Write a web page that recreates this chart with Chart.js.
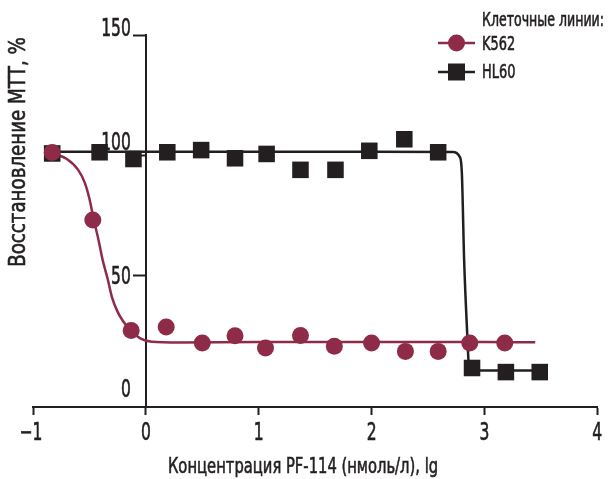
<!DOCTYPE html>
<html><head><meta charset="utf-8">
<script src="https://cdn.jsdelivr.net/npm/chart.js@4"></script>
<style>html,body{margin:0;padding:0;background:#fff}</style>
</head><body>
<canvas id="c" width="609" height="479" style="display:block;width:609px;height:479px"></canvas>
<script>
const FONT = "'DejaVu Sans Condensed','DejaVu Sans',sans-serif";
const INK = '#231F20';
const MAROON = '#8E2B49';

const seriesNames = ['K562', 'HL60'];
const legendTitle = 'Клеточные линии:';
const xTitle = 'Концентрация PF-114 (нмоль/л), lg';
const yTitle = 'Восстановление МТТ, %';
const xTicks = [-1, 0, 1, 2, 3, 4];
const yTicks = [0, 50, 100, 150];

// measured points
const k562X = [-0.83, -0.47, -0.13, 0.18, 0.50, 0.79, 1.06, 1.37, 1.67, 2.00, 2.30, 2.59, 2.87, 3.18];
const k562Y = [101.2, 73.2, 27.3, 28.7, 22.1, 25.1, 20.0, 25.2, 20.7, 22.1, 18.6, 18.6, 22.1, 22.1];
const hl60X = [-0.83, -0.41, -0.11, 0.19, 0.49, 0.79, 1.07, 1.37, 1.68, 1.98, 2.29, 2.59, 2.89, 3.19, 3.49];
const hl60Y = [100.8, 101.3, 98.5, 101.3, 102.2, 98.8, 100.6, 94.0, 94.0, 101.9, 106.7, 101.3, 11.7, 10.0, 10.0];

// fitted curves
const k562FitX = [-0.83, -0.70, -0.60, -0.54, -0.50, -0.46, -0.42, -0.38, -0.34, -0.30, -0.25, -0.20, -0.13, -0.05, 0.05, 0.3, 1.0, 2.0, 3.0, 3.45];
const k562FitY = [101, 98.5, 94, 88.5, 82, 73, 65, 56, 49, 41, 35, 31, 27, 24, 22.6, 22.3, 22.5, 22.5, 22.5, 22.4];
const hl60FitX = [-0.83, 1.0, 2.0, 2.72, 2.78, 2.80, 2.82, 2.85, 2.86, 2.88, 2.96, 3.49];
const hl60FitY = [101.5, 101.5, 101.5, 101.4, 99.5, 92.6, 56.6, 23.4, 13.8, 11.4, 10.7, 10.7];

// nudges of the y tick labels relative to their ticks, as in the original
const yLabelShift = {150: -5, 100: -12, 50: 2, 0: -5};

const pts = (xs, ys) => xs.map((x, i) => ({x, y: ys[i]}));

// condensed-looking text: the installed face is squeezed horizontally
function text(ctx, str, x, y, size, align, sx, rot) {
  ctx.save();
  ctx.translate(x, y);
  if (rot) ctx.rotate(rot);
  ctx.scale(sx, 1);
  ctx.font = size + 'px ' + FONT;
  ctx.textAlign = align;
  ctx.textBaseline = 'middle';
  ctx.lineWidth = 0.6;
  ctx.strokeStyle = ctx.fillStyle;
  ctx.fillText(str, 0, 0);
  ctx.strokeText(str, 0, 0);
  ctx.restore();
}

const overlay = {
  id: 'overlay',
  afterDraw(chart) {
    const ctx = chart.ctx;
    const xs = chart.scales.x, ys = chart.scales.y;
    ctx.save();
    ctx.fillStyle = INK;
    // tick labels
    const axisX = xs.getPixelForValue(0);
    yTicks.forEach(v => text(ctx, String(v), axisX - 15, ys.getPixelForValue(v) + (yLabelShift[v] || 0), 24, 'right', 0.72));
    xTicks.forEach(v => text(ctx, v < 0 ? '\u2212' + Math.abs(v) : String(v), xs.getPixelForValue(v) - (v < 0 ? 2 : 0), 434, 24, 'center', 0.72));
    // axis titles
    text(ctx, xTitle, 303, 467, 22, 'center', 0.745);
    text(ctx, yTitle, 19, 152, 23, 'center', 0.88, -Math.PI / 2);
    // legend
    text(ctx, legendTitle, 482, 21, 19, 'left', 0.735);
    ctx.lineWidth = 2.5;
    ctx.strokeStyle = MAROON;
    ctx.beginPath(); ctx.moveTo(438, 43); ctx.lineTo(475, 43); ctx.stroke();
    ctx.fillStyle = MAROON;
    ctx.beginPath(); ctx.arc(456.5, 43, 8.5, 0, Math.PI * 2); ctx.fill();
    ctx.fillStyle = INK;
    text(ctx, seriesNames[0], 482, 45, 20, 'left', 0.72);
    ctx.strokeStyle = INK;
    ctx.lineWidth = 2.5;
    ctx.beginPath(); ctx.moveTo(438, 72); ctx.lineTo(475, 72); ctx.stroke();
    ctx.fillRect(448, 63.5, 17, 17);
    text(ctx, seriesNames[1], 482, 73, 20, 'left', 0.72);
    ctx.restore();
  }
};

new Chart(document.getElementById('c'), {
  type: 'scatter',
  data: {
    datasets: [
      { label: seriesNames[0], data: pts(k562X, k562Y), showLine: false, pointStyle: 'circle', pointRadius: 8.5, pointBorderWidth: 0, backgroundColor: MAROON, borderColor: MAROON, clip: false },
      { label: seriesNames[1], data: pts(hl60X, hl60Y), showLine: false, pointStyle: 'rect', pointRadius: 11.7, pointBorderWidth: 0, backgroundColor: INK, borderColor: INK, clip: false },
      { label: seriesNames[0] + ' fit', data: pts(k562FitX, k562FitY), showLine: true, pointRadius: 0, borderColor: MAROON, borderWidth: 2.5, cubicInterpolationMode: 'monotone', clip: false },
      { label: seriesNames[1] + ' fit', data: pts(hl60FitX, hl60FitY), showLine: true, pointRadius: 0, borderColor: INK, borderWidth: 2.5, cubicInterpolationMode: 'monotone', clip: false }
    ]
  },
  options: {
    responsive: false,
    animation: false,
    devicePixelRatio: 1,
    layout: { padding: { left: 33, right: 11, top: 35, bottom: 0 } },
    plugins: { legend: { display: false }, tooltip: { enabled: false } },
    scales: {
      x: {
        type: 'linear', min: -1, max: 4, position: 'bottom',
        afterBuildTicks: s => { s.ticks = xTicks.map(v => ({value: v})); },
        afterFit: s => { s.height = 72; },
        ticks: { display: false },
        grid: { drawOnChartArea: false, tickLength: 8, tickWidth: 2, tickColor: INK },
        border: { color: INK, width: 2 }
      },
      y: {
        type: 'linear', min: -4.5, max: 150, position: { x: 0 },
        afterBuildTicks: s => { s.ticks = yTicks.map(v => ({value: v})); },
        ticks: { display: false },
        grid: { drawOnChartArea: false, tickLength: 12, tickWidth: 2,
                tickColor: c => (c.tick && c.tick.value === 0) ? 'rgba(0,0,0,0)' : INK },
        border: { color: INK, width: 2 }
      }
    }
  },
  plugins: [overlay]
});
</script>
</body></html>
